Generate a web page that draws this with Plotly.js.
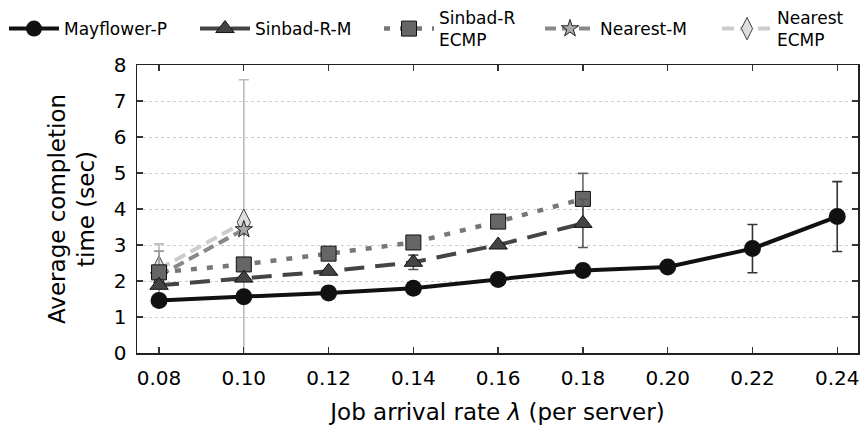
<!DOCTYPE html>
<html>
<head>
<meta charset="utf-8">
<script src="https://cdn.plot.ly/plotly-3.0.1.min.js"></script>
<style>
  html, body { margin: 0; padding: 0; background: #fff; }
  #chart { width: 862px; height: 428px; }
</style>
</head>
<body>
<div id="chart"></div>
<script>
// Job arrival rate per server
const rates = [0.08, 0.10, 0.12, 0.14, 0.16, 0.18, 0.20, 0.22, 0.24];

// Average completion time (sec) and error half-widths per scheme
const mayflowerP = [1.46, 1.56, 1.67, 1.80, 2.04, 2.29, 2.39, 2.90, 3.79];
const mayflowerErr = [0.07, 0, 0, 0, 0, 0, 0, 0.67, 0.97];

const sinbadRM = [1.88, 2.08, 2.27, 2.52, 3.00, 3.60];
const sinbadRMErr = [0, 0, 0, 0.2, 0, 0.67];

const sinbadRECMP = [2.24, 2.46, 2.76, 3.07, 3.65, 4.28];
const sinbadRECMPErr = [0, 0, 0, 0, 0, 0.71];

const nearestM = [2.15, 3.43];
const nearestMErr = [0.68, 0];

const nearestECMP = [2.33, 3.63];
const nearestECMPErr = [0.70, 3.96];

const seriesNames = ['Mayflower-P', 'Sinbad-R-M', 'Sinbad-R<br>ECMP', 'Nearest-M', 'Nearest<br>ECMP'];

function trace(name, legendId, ys, errs, line, marker, errColor) {
  return {
    type: 'scatter',
    mode: 'lines+markers',
    name: name,
    legend: legendId,
    x: rates.slice(0, ys.length),
    y: ys,
    error_y: { type: 'data', array: errs, visible: true, color: errColor, thickness: 1.6, width: 5 },
    line: line,
    marker: marker
  };
}

// Drawn back to front so the Mayflower-P curve sits on top
const traces = [
  trace(seriesNames[4], 'legend5', nearestECMP, nearestECMPErr,
    { color: '#cccccc', width: 4, dash: '12px,6px' },
    { symbol: 'diamond-tall', size: 19, color: '#dddddd', line: { color: '#444', width: 1 } }, '#bbbbbb'),
  trace(seriesNames[3], 'legend4', nearestM, nearestMErr,
    { color: '#888888', width: 4, dash: '11px,6px' },
    { symbol: 'star', size: 13, color: '#aaaaaa', line: { color: '#222', width: 1 } }, '#999999'),
  trace(seriesNames[2], 'legend3', sinbadRECMP, sinbadRECMPErr,
    { color: '#777777', width: 4.5, dash: '6px,10px' },
    { symbol: 'square', size: 15, color: '#666666', line: { color: '#111', width: 1 } }, '#666666'),
  trace(seriesNames[1], 'legend2', sinbadRM, sinbadRMErr,
    { color: '#444444', width: 4, dash: '20px,11px' },
    { symbol: 'triangle-up', size: 16, color: '#444444', line: { color: '#111', width: 1 } }, '#555555'),
  trace(seriesNames[0], 'legend', mayflowerP, mayflowerErr,
    { color: '#111111', width: 4 },
    { symbol: 'circle', size: 17, color: '#111111' }, '#333333')
];

const legendFont = { family: 'DejaVu Sans', size: 17, color: '#000' };

// One legend box per series, laid out in a single row across the top
function legendAt(px) {
  return {
    orientation: 'h',
    x: px / 862, xref: 'container', xanchor: 'left',
    y: 1 - 29 / 428, yref: 'container', yanchor: 'middle',
    font: legendFont,
    bgcolor: 'rgba(0,0,0,0)',
    borderwidth: 0,
    itemwidth: 50,
    valign: 'middle'
  };
}

const axisFont = { family: 'DejaVu Sans', size: 20, color: '#000' };
const titleFont = { family: 'DejaVu Sans', size: 23, color: '#000' };

const layout = {
  width: 862,
  height: 428,
  margin: { l: 137, r: 4, t: 65, b: 75, autoexpand: false },
  paper_bgcolor: '#fff',
  plot_bgcolor: '#fff',
  font: { family: 'DejaVu Sans', color: '#000' },
  showlegend: true,
  legend: legendAt(4),
  legend2: legendAt(195),
  legend3: legendAt(379),
  legend4: legendAt(540),
  legend5: legendAt(717),
  xaxis: {
    range: [0.0748, 0.2449],
    tickvals: rates,
    ticktext: rates.map(v => v.toFixed(2)),
    ticks: 'inside', ticklen: 6, tickwidth: 1.3, tickcolor: '#333',
    ticklabelstandoff: 6,
    showline: true, linecolor: '#222', linewidth: 1.5, mirror: 'ticks',
    showgrid: false, zeroline: false,
    tickfont: axisFont,
    title: { text: 'Job arrival rate <i>λ</i> (per server)', font: titleFont, standoff: 15 }
  },
  yaxis: {
    range: [0, 8],
    dtick: 1,
    automargin: true,
    ticks: 'inside', ticklen: 6, tickwidth: 1.3, tickcolor: '#333',
    ticklabelstandoff: 5,
    showline: true, linecolor: '#222', linewidth: 1.5, mirror: 'ticks',
    showgrid: true, gridcolor: '#cccccc', griddash: 'dot', gridwidth: 1,
    zeroline: false,
    tickfont: axisFont,
    title: { text: 'Average completion<br>time (sec)', font: titleFont, standoff: 12 }
  }
};

Plotly.newPlot('chart', traces, layout, { displayModeBar: false, staticPlot: true });
</script>
</body>
</html>
